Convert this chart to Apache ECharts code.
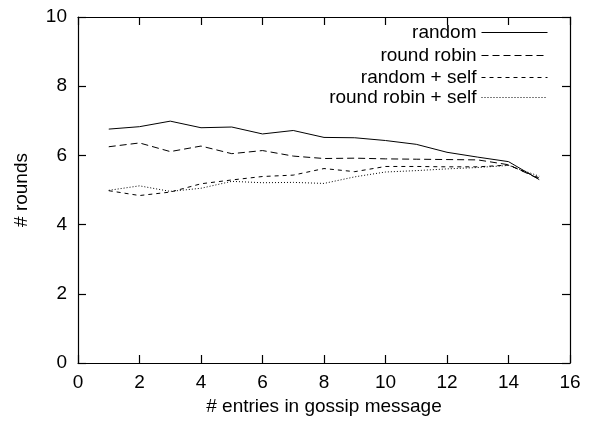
<!DOCTYPE html>
<html><head><meta charset="utf-8">
<script src="https://cdn.jsdelivr.net/npm/echarts@6/dist/echarts.min.js"></script>
<style>html,body{margin:0;padding:0;background:#fff}#c{width:594px;height:426px}</style>
</head><body><div id="c"></div>
<script>
const entries = [1,2,3,4,5,6,7,8,9,10,11,12,13,14,15];
const randomVals = [6.76,6.83,6.99,6.80,6.82,6.62,6.72,6.52,6.51,6.43,6.32,6.09,5.95,5.82,5.30];
const roundRobinVals = [6.25,6.36,6.11,6.27,6.05,6.14,5.98,5.91,5.92,5.90,5.89,5.88,5.87,5.73,5.32];
const randomSelfVals = [4.98,4.84,4.94,5.18,5.29,5.39,5.43,5.62,5.53,5.68,5.68,5.67,5.67,5.72,5.35];
const rrSelfVals = [4.99,5.12,4.96,5.05,5.25,5.21,5.22,5.19,5.38,5.52,5.56,5.61,5.65,5.71,5.40];
const seriesNames = ['random','round robin','random + self','round robin + self'];
const xTicks = [0,2,4,6,8,10,12,14,16];
const yTicks = [0,2,4,6,8,10];

const FONT = 'Liberation Sans, Arial, sans-serif';
const FS = 19;
const dashes = ['solid', [7,4], [4,4], [1,2]];
const vals = [randomVals, roundRobinVals, randomSelfVals, rrSelfVals];
const chart = echarts.init(document.getElementById('c'));
const axisCommon = {
  axisLine:{show:true,onZero:false,lineStyle:{color:'#000',width:1.2}},
  axisTick:{show:true,inside:true,length:8,lineStyle:{color:'#000',width:1.2}},
  splitLine:{show:false}
};
const legendTops = [23, 46, 68, 88];
chart.setOption({
  animation:false,
  backgroundColor:'#fff',
  grid:{left:78,right:24,top:17,bottom:63},
  legend: seriesNames.map((n,i)=>({
    data:[n], right:46, top:legendTops[i], align:'right', itemWidth:66, itemHeight:14,
    itemGap:0, padding:0, selectedMode:false,
    itemStyle:{opacity:0},
    lineStyle:{width:1,color:'#000'},
    textStyle:{fontFamily:FONT,fontSize:FS,color:'#000'}
  })),
  xAxis:[
    Object.assign({type:'value',min:0,max:16,interval:2,position:'bottom',
      name:'# entries in gossip message',nameLocation:'middle',nameGap:34,
      nameTextStyle:{fontFamily:FONT,fontSize:FS,color:'#000'},
      axisLabel:{fontFamily:FONT,fontSize:FS,color:'#000',margin:10,
        formatter:v=>xTicks.includes(v)?String(v):''}},axisCommon),
    Object.assign({type:'value',min:0,max:16,interval:2,position:'top',axisLabel:{show:false}},axisCommon)
  ],
  yAxis:[
    Object.assign({type:'value',min:0,max:10,interval:2,position:'left',
      name:'# rounds',nameLocation:'middle',nameGap:47,nameRotate:90,
      nameTextStyle:{fontFamily:FONT,fontSize:FS,color:'#000'},
      axisLabel:{fontFamily:FONT,fontSize:FS,color:'#000',margin:11,
        formatter:v=>yTicks.includes(v)?String(v):''}},axisCommon),
    Object.assign({type:'value',min:0,max:10,interval:2,position:'right',axisLabel:{show:false}},axisCommon)
  ],
  series: seriesNames.map((n,i)=>({
    name:n, type:'line', showSymbol:false, symbol:'none',
    data: entries.map((e,j)=>[e, vals[i][j]]),
    lineStyle:{color:'#000',width:1,type:dashes[i]},
    itemStyle:{color:'#000'}
  }))
});
</script></body></html>
